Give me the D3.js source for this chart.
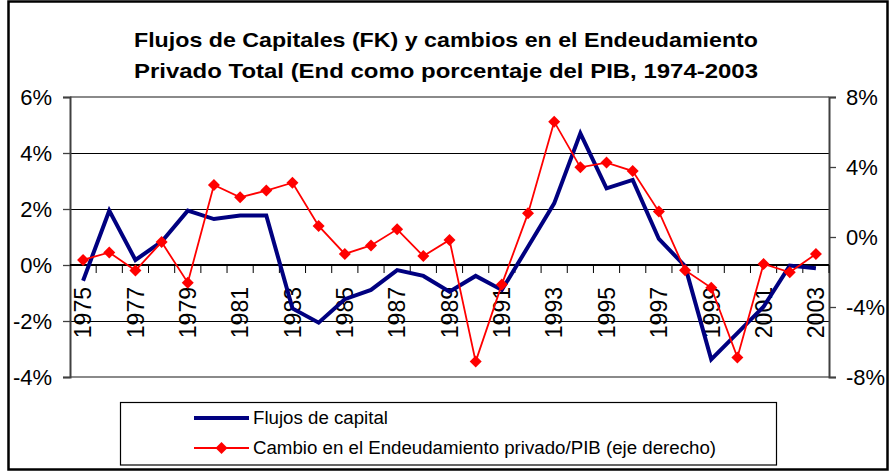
<!DOCTYPE html>
<html>
<head>
<meta charset="utf-8">
<script src="https://cdn.jsdelivr.net/npm/d3@7"></script>
<style>
  html, body { margin: 0; padding: 0; background: #fff; }
  svg { display: block; font-family: "Liberation Sans", Arial, sans-serif; }
</style>
</head>
<body>
<svg id="chart" width="889" height="472"></svg>
<script>
// ---- data ----
const years = ["1975","1976","1977","1978","1979","1980","1981","1982","1983","1984",
               "1985","1986","1987","1988","1989","1990","1991","1992","1993","1994",
               "1995","1996","1997","1998","1999","2000","2001","2002","2003"];
// Flujos de capital (% , left axis)
const flujos = [-0.56, 1.94, 0.18, 0.83, 1.94, 1.64, 1.77, 1.77, -1.55, -2.06,
                -1.22, -0.89, -0.18, -0.39, -0.95, -0.39, -0.89, 0.65, 2.20, 4.70,
                2.74, 3.04, 0.93, -0.04, -3.37, -2.43, -1.49, -0.02, -0.12];
// Cambio en el Endeudamiento privado/PIB (% , right axis)
const cambio = [-1.31, -0.88, -1.92, -0.29, -2.61, 2.97, 2.27, 2.65, 3.10, 0.63,
                -0.97, -0.48, 0.44, -1.09, -0.17, -7.12, -2.71, 1.35, 6.59, 3.98,
                4.25, 3.77, 1.45, -1.90, -2.90, -6.88, -1.54, -2.02, -0.97];
const leftTicks = [-4, -2, 0, 2, 4, 6];
const rightTicks = [-8, -4, 0, 4, 8];
const titleLines = ["Flujos de Capitales (FK) y cambios en el Endeudamiento",
                    "Privado Total (End como porcentaje del PIB, 1974-2003"];
const seriesNames = ["Flujos de capital",
                     "Cambio en el Endeudamiento privado/PIB (eje derecho)"];

// ---- layout ----
const svg = d3.select("#chart");
const P = {left: 70, right: 829, top: 97, bottom: 377};
const x = d3.scaleBand().domain(years).range([P.left, P.right]).padding(0);
const cx = d => x(d) + x.bandwidth() / 2;
const yL = d3.scaleLinear().domain([-4, 6]).range([P.bottom, P.top]);
const yR = d3.scaleLinear().domain([-8, 8]).range([P.bottom, P.top]);
const pct = d => d + "%";

// outer border
svg.append("rect").attr("x", 8.5).attr("y", 1.5).attr("width", 879).attr("height", 468)
  .attr("fill", "#fff").attr("stroke", "#000").attr("stroke-width", 2.5);

// title
titleLines.forEach((t, i) => {
  svg.append("text").attr("x", 446).attr("y", 47 + i * 31)
    .attr("text-anchor", "middle").attr("font-size", 21).attr("font-weight", "bold")
    .attr("textLength", 624).attr("lengthAdjust", "spacingAndGlyphs")
    .text(t);
});

// gridlines
svg.append("g").selectAll("line").data(leftTicks.filter(t => t !== 0 && t !== 6 && t !== -4))
  .join("line")
  .attr("x1", P.left).attr("x2", P.right)
  .attr("y1", d => yL(d) + 0.5).attr("y2", d => yL(d) + 0.5)
  .attr("stroke", "#000").attr("stroke-width", 1);

// plot area top/bottom border
[P.top, P.bottom].forEach(yy => {
  svg.append("line").attr("x1", P.left).attr("x2", P.right).attr("y1", yy).attr("y2", yy)
    .attr("stroke", "#8a8a8a").attr("stroke-width", 2);
});

// left axis
const gL = svg.append("g").attr("transform", `translate(${P.left},0)`)
  .call(d3.axisLeft(yL).tickValues(leftTicks).tickFormat(pct).tickSize(7).tickPadding(11));
gL.select(".domain").attr("stroke", "#404040").attr("stroke-width", 2);
gL.selectAll(".tick line").attr("stroke", "#404040").attr("stroke-width", 1.3);
gL.selectAll(".tick text").attr("font-size", 22).attr("fill", "#000")
  .attr("font-family", "'Liberation Sans', Arial, sans-serif");

// right axis
const gR = svg.append("g").attr("transform", `translate(${P.right},0)`)
  .call(d3.axisRight(yR).tickValues(rightTicks).tickFormat(pct).tickSize(7).tickPadding(10));
gR.select(".domain").attr("stroke", "#404040").attr("stroke-width", 2);
gR.selectAll(".tick line").attr("stroke", "#404040").attr("stroke-width", 1.3);
gR.selectAll(".tick text").attr("font-size", 22).attr("fill", "#000")
  .attr("font-family", "'Liberation Sans', Arial, sans-serif");

// x axis (at 0 of left axis), ticks between categories
const y0 = yL(0);
svg.append("line").attr("x1", P.left).attr("x2", P.right).attr("y1", y0).attr("y2", y0)
  .attr("stroke", "#000").attr("stroke-width", 2);
const bounds = years.map(d => x(d)).slice(1).concat([P.right]);
svg.append("g").selectAll("line").data(bounds).join("line")
  .attr("x1", d => d).attr("x2", d => d).attr("y1", y0).attr("y2", y0 + 8)
  .attr("stroke", "#000").attr("stroke-width", 1);
svg.append("g").selectAll("text").data(years.filter((d, i) => i % 2 === 0)).join("text")
  .attr("transform", d => `translate(${cx(d)},${y0 + 22}) rotate(-90)`)
  .attr("text-anchor", "end").attr("dy", "0.36em").attr("font-size", 23)
  .text(d => d);

// blue line
const lineL = d3.line().x((d, i) => cx(years[i])).y(d => yL(d));
svg.append("path").datum(flujos).attr("d", lineL)
  .attr("fill", "none").attr("stroke", "#000080").attr("stroke-width", 4)
  .attr("stroke-linejoin", "miter");

// red line + diamonds
const lineR = d3.line().x((d, i) => cx(years[i])).y(d => yR(d));
svg.append("path").datum(cambio).attr("d", lineR)
  .attr("fill", "none").attr("stroke", "#ff0000").attr("stroke-width", 1.8);
const diamond = d3.symbol().type(d3.symbolSquare).size(72);
svg.append("g").selectAll("path").data(cambio).join("path")
  .attr("d", diamond)
  .attr("transform", (d, i) => `translate(${cx(years[i])},${yR(d)}) rotate(45)`)
  .attr("fill", "#ff0000");

// legend
svg.append("rect").attr("x", 120.5).attr("y", 402.5).attr("width", 656).attr("height", 62.5)
  .attr("fill", "#fff").attr("stroke", "#000").attr("stroke-width", 1.2);
svg.append("line").attr("x1", 194).attr("x2", 249).attr("y1", 418).attr("y2", 418)
  .attr("stroke", "#000080").attr("stroke-width", 4);
svg.append("line").attr("x1", 194).attr("x2", 249).attr("y1", 448).attr("y2", 448)
  .attr("stroke", "#ff0000").attr("stroke-width", 1.8);
svg.append("path").attr("d", diamond).attr("transform", "translate(221.5,448) rotate(45)")
  .attr("fill", "#ff0000");
svg.append("text").attr("x", 253).attr("y", 424).attr("font-size", 18)
  .attr("textLength", 135).attr("lengthAdjust", "spacingAndGlyphs").text(seriesNames[0]);
svg.append("text").attr("x", 253).attr("y", 454).attr("font-size", 18)
  .attr("textLength", 463).attr("lengthAdjust", "spacingAndGlyphs").text(seriesNames[1]);
</script>
</body>
</html>
